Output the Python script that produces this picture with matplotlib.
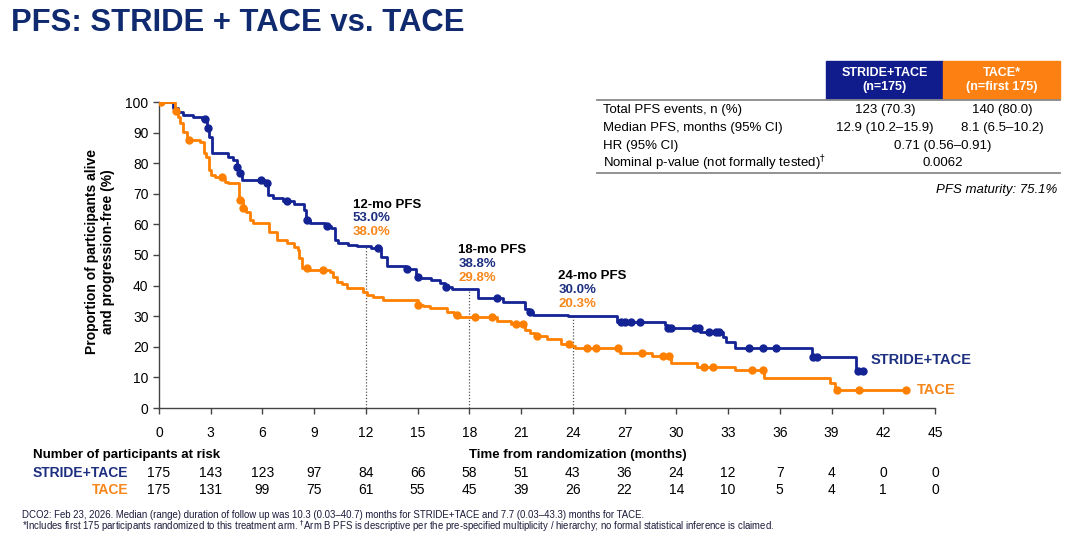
import numpy as np
import matplotlib.pyplot as plt
import matplotlib.transforms as mtransforms
from matplotlib.patches import Rectangle

plt.rcParams['font.family'] = ['Liberation Sans', 'DejaVu Sans']

W, H = 1080, 544
BLUE = '#142394'
BLUE_TXT = '#1c2f80'
ORANGE = '#ff8000'
ORANGE_TXT = '#f7861b'
NAVY = '#0f2a6e'

# ---- data (step times, survival after step) ----
stride_t = [0, 0.8, 1.1, 1.4, 2.0, 2.5, 2.77, 2.9, 3.05, 4.0, 4.3, 4.5, 4.6, 4.8,
            6.15, 6.32, 6.63, 7.2, 7.8, 8.4, 8.55, 8.76, 9.6, 10.0, 10.2, 10.4,
            10.98, 11.47, 12.3, 12.9, 13.2, 14.3, 14.9, 15.1, 15.8, 16.3, 16.6,
            17.0, 18.5, 19.97, 21.2, 21.45, 21.7, 23.7, 26.55, 29.35, 29.45,
            31.4, 32.7, 32.9, 33.4, 37.86, 40.4]
stride_s = [100, 98, 96.7, 95.7, 95.2, 94.4, 91.5, 88.7, 83.2, 82.1, 81.0, 78.9, 76.7, 74.5,
            73.4, 69.6, 68.5, 67.6, 66.8, 64.7, 61.4, 60.4, 59.6, 58.7, 54.9, 54.0,
            53.4, 53.0, 52.2, 49.5, 46.4, 45.3, 42.9, 42.4, 41.8, 40.7, 39.6,
            38.8, 35.8, 34.7, 32.5, 31.5, 30.4, 30.0, 28.2, 27.1, 26.3,
            24.9, 23.1, 21.7, 19.5, 16.6, 12.2]
stride_end = 40.8
stride_cens = [2.67, 2.86, 4.54, 4.7, 5.93, 6.28, 7.4, 8.6, 9.73, 12.72, 14.37, 15.03,
               16.65, 19.6, 21.5, 26.8, 27.0, 27.4, 27.9, 29.5, 29.7, 31.1, 31.3,
               31.9, 32.3, 32.5, 34.2, 35.05, 35.8, 37.9, 38.15, 40.56, 40.8]

tace_t = [0, 0.95, 1.1, 1.22, 1.4, 1.6, 2.4, 2.6, 2.75, 2.9, 3.0, 3.25, 3.7, 3.85, 4.02,
          4.62, 4.85, 5.05, 5.28, 5.45, 6.4, 6.83, 7.4, 7.8, 8.08, 8.1, 8.3, 8.7,
          9.92, 10.1, 10.3, 10.6, 10.9, 11.85, 12.05, 12.43, 13.0, 15.0, 15.3, 15.7,
          16.7, 17.1, 17.4, 19.6, 20.4, 21.2, 21.5, 21.8, 22.5, 23.3, 23.9, 24.1,
          26.75, 28.6, 29.7, 31.2, 33.4, 35.1, 38.9, 39.2]
tace_s = [100, 97, 95, 93, 90.3, 87.6, 87.0, 83.2, 82.1, 77.8, 76.2, 75.6, 75.0, 74.0, 73.4,
          68.0, 65.3, 64.2, 61.4, 60.4, 57.6, 54.9, 54.0, 52.7, 51.6, 48.9, 45.7, 45.2,
          44.5, 42.9, 41.3, 40.5, 39.1, 38.0, 36.9, 36.2, 35.3, 33.7, 33.2, 32.6,
          31.5, 30.3, 29.8, 28.3, 27.3, 25.5, 24.5, 23.5, 22.5, 21.0, 20.3, 19.5,
          17.9, 17.0, 14.6, 13.5, 12.4, 9.9, 8.3, 5.9]
tace_end = 43.3
tace_cens = [0.1, 0.99, 1.76, 3.64, 4.7, 4.9, 8.57, 9.49, 15.04, 17.26, 18.35, 19.3,
             20.7, 21.1, 21.9, 23.8, 24.8, 25.35, 26.6, 28.0, 29.25, 29.6, 31.6,
             32.15, 34.4, 35.0, 39.3, 40.6, 43.3]

landmarks = [12, 18, 24]
landmark_stride = [53.0, 38.8, 30.0]
landmark_tace = [38.0, 29.8, 20.3]

months = list(range(0, 46, 3))
risk_stride = [175, 143, 123, 97, 84, 66, 58, 51, 43, 36, 24, 12, 7, 4, 0, 0]
risk_tace = [175, 131, 99, 75, 61, 55, 45, 39, 26, 22, 14, 10, 5, 4, 1, 0]

row_labels = ['Total PFS events, n (%)', 'Median PFS, months (95% CI)',
              'HR (95% CI)', 'Nominal p-value (not formally tested)$^{\u2020}$']
stride_vals = ['123 (70.3)', '12.9 (10.2\u201315.9)']
tace_vals = ['140 (80.0)', '8.1 (6.5\u201310.2)']
shared_vals = ['0.71 (0.56\u20130.91)', '0.0062']


def level(q, t, s):
    idx = np.searchsorted(t, q, side='right') - 1
    return np.asarray(s)[idx]


def fx(x):
    return x / W


def fy(y):
    return 1 - y / H


fig = plt.figure(figsize=(10.8, 5.44), dpi=100)
ax = fig.add_axes([fx(159), fy(408), 776 / W, 306 / H])

for t, s, end, cens, c in [(stride_t, stride_s, stride_end, stride_cens, BLUE),
                           (tace_t, tace_s, tace_end, tace_cens, ORANGE)]:
    ax.step(t + [end], s + [s[-1]], where='post', color=c, lw=2.0, zorder=3)
    ax.plot(cens, level(cens, t, s), 'o', color=c, ms=5, zorder=4)

ax.vlines(landmarks, 0, landmark_stride, colors='#555555', linestyles=(0, (1, 1.5)), lw=0.9, zorder=2)

ann_x = [11.25, 17.35, 23.15]
ann_y = [66.5, 51.5, 43.0]
for i, m in enumerate(landmarks):
    ax.text(ann_x[i], ann_y[i], f'{m}-mo PFS', fontsize=9.5, fontweight='bold', color='black', va='center')
    ax.text(ann_x[i], ann_y[i] - 4.5, f'{landmark_stride[i]:.1f}%', fontsize=9.5, fontweight='bold',
            color=BLUE_TXT, va='center')
    ax.text(ann_x[i], ann_y[i] - 9.0, f'{landmark_tace[i]:.1f}%', fontsize=9.5, fontweight='bold',
            color=ORANGE_TXT, va='center')

ax.text(41.25, 15.8, 'STRIDE+TACE', fontsize=10.5, fontweight='bold', color=BLUE_TXT, va='center')
ax.text(43.95, 5.9, 'TACE', fontsize=10.5, fontweight='bold', color=ORANGE_TXT, va='center')

ax.set_xlim(0, 45)
ax.set_ylim(0, 100)
ax.set_xticks(months)
ax.set_yticks(range(0, 101, 10))
ax.tick_params(axis='x', length=4, width=1, color='#444444', pad=9, labelsize=10)
ax.tick_params(axis='y', length=4, width=1, color='#444444', pad=3.5, labelsize=10)
for sp in ['top', 'right']:
    ax.spines[sp].set_visible(False)
for sp in ['left', 'bottom']:
    ax.spines[sp].set_color('#444444')
    ax.spines[sp].set_linewidth(1)

fig.text(fx(100), fy(252), 'Proportion of participants alive\nand progression-free (%)', rotation=90,
         ha='center', va='center', fontsize=10, fontweight='bold', linespacing=1.15)

# risk table
trans = mtransforms.blended_transform_factory(ax.transData, fig.transFigure)
for m, a, b in zip(months, risk_stride, risk_tace):
    ax.text(m, fy(473), str(a), transform=trans, ha='center', va='center', fontsize=10)
    ax.text(m, fy(490), str(b), transform=trans, ha='center', va='center', fontsize=10)
fig.text(fx(33), fy(455), 'Number of participants at risk', fontsize=9.5, fontweight='bold', va='center')
fig.text(fx(578), fy(455), 'Time from randomization (months)', fontsize=9.5, fontweight='bold',
         ha='center', va='center')
fig.text(fx(128), fy(473), 'STRIDE+TACE', fontsize=10, fontweight='bold', color=BLUE_TXT,
         ha='right', va='center')
fig.text(fx(128), fy(490), 'TACE', fontsize=10, fontweight='bold', color=ORANGE_TXT,
         ha='right', va='center')

# title
fig.text(fx(11), fy(23), 'PFS: STRIDE + TACE vs. TACE', fontsize=22.3, fontweight='bold',
         color=NAVY, va='center')

# summary table
fig.patches.append(Rectangle((fx(826), fy(99)), 117 / W, 38 / H, transform=fig.transFigure,
                             color='#101c8c', zorder=0))
fig.patches.append(Rectangle((fx(943), fy(99)), 117 / W, 38 / H, transform=fig.transFigure,
                             color='#fd8112', zorder=0))
fig.text(fx(884.5), fy(80), 'STRIDE+TACE\n(n=175)', color='white', fontsize=9, fontweight='bold',
         ha='center', va='center', linespacing=1.3)
fig.text(fx(1001.5), fy(80), 'TACE*\n(n=first 175)', color='white', fontsize=9, fontweight='bold',
         ha='center', va='center', linespacing=1.3)
for yy in [99.5, 172.5]:
    fig.add_artist(plt.Line2D([fx(597), fx(1060)], [fy(yy), fy(yy)], color='#8a8a8a', lw=1.3))
row_y = [110, 128, 146, 163.5]
for i, lab in enumerate(row_labels):
    fig.text(fx(603), fy(row_y[i]), lab, fontsize=9.5, va='center')
for i in range(2):
    fig.text(fx(885), fy(row_y[i]), stride_vals[i], fontsize=9.5, ha='center', va='center')
    fig.text(fx(1002), fy(row_y[i]), tace_vals[i], fontsize=9.5, ha='center', va='center')
    fig.text(fx(943), fy(row_y[i + 2]), shared_vals[i], fontsize=9.5, ha='center', va='center')
fig.text(fx(1057), fy(190), 'PFS maturity: 75.1%', fontsize=9.5, style='italic', ha='right', va='center')

# footnotes
fig.text(fx(22), fy(515), 'DCO2: Feb 23, 2026. Median (range) duration of follow up was 10.3 (0.03\u201340.7) '
         'months for STRIDE+TACE and 7.7 (0.03\u201343.3) months for TACE.', fontsize=6.9,
         color='#1a1a3a', va='center')
fig.text(fx(22), fy(526), '*Includes first 175 participants randomized to this treatment arm. '
         '$^{\u2020}$Arm B PFS is descriptive per the pre-specified multiplicity / hierarchy; '
         'no formal statistical inference is claimed.', fontsize=6.9, color='#1a1a3a', va='center')

fig.savefig('out.png', dpi=100)
